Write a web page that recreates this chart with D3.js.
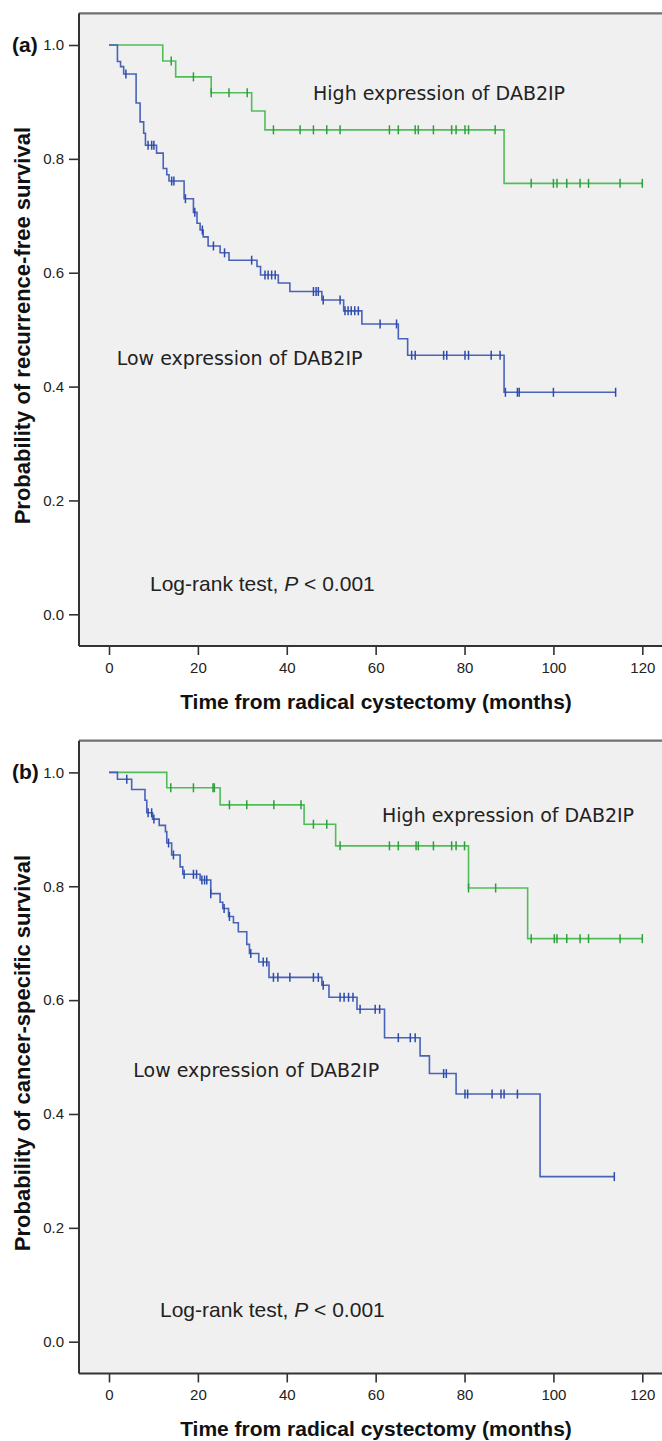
<!DOCTYPE html>
<html>
<head>
<meta charset="utf-8">
<script src="https://cdn.jsdelivr.net/npm/d3@7"></script>
<style>
  html, body { margin: 0; padding: 0; background: #fff; }
  svg { display: block; }
</style>
</head>
<body>
<div id="chart"></div>
<script>
// Axis ticks
const x_ticks = [0, 20, 40, 60, 80, 100, 120];
const y_ticks = [0, 0.2, 0.4, 0.6, 0.8, 1.0];

// (a) recurrence-free survival
const a_high_time = [0, 12.1, 15.0, 23.0, 32.1, 35.1, 88.9];
const a_high_surv = [1.0, 0.972, 0.944, 0.916, 0.884, 0.851, 0.757];
const a_high_cens = [14.0, 19.0, 23.0, 27.0, 31.1, 37.0, 43.0, 46.0, 49.0, 52.0, 63.1, 65.1, 68.9, 69.6, 73.0,
    77.1, 78.1, 80.1, 80.9, 86.9, 95.0, 100.0, 100.8, 103.0, 106.0, 107.9, 115.0, 120.0];

const a_low_time = [0, 1.9, 2.6, 3.3, 6.1, 7.0, 7.8, 8.2, 10.7, 12.2, 13.0, 13.5, 16.9, 19.0, 19.8, 20.5, 21.2,
    22.3, 25.0, 27.0, 33.3, 34.1, 38.1, 40.7, 47.9, 52.8, 56.9, 65.1, 67.2, 88.9];
const a_low_surv = [1.0, 0.971, 0.962, 0.949, 0.898, 0.865, 0.845, 0.824, 0.810, 0.783, 0.772, 0.761, 0.730, 0.706,
    0.687, 0.675, 0.663, 0.647, 0.635, 0.622, 0.611, 0.596, 0.582, 0.567, 0.552, 0.533, 0.510, 0.484, 0.455, 0.390];
const a_low_cens = [3.8, 8.8, 9.6, 10.1, 14.1, 14.6, 17.2, 19.3, 21.0, 23.5, 26.0, 32.1, 35.1, 35.8, 36.6, 37.4,
    46.0, 46.6, 47.1, 48.2, 52.0, 53.1, 53.8, 54.5, 55.3, 56.1, 61.0, 64.7, 68.1, 68.9, 75.3, 76.0, 80.1, 80.9,
    86.0, 88.0, 89.2, 91.9, 92.3, 100.0, 114.0];

// (b) cancer-specific survival
const b_high_time = [0, 13.0, 25.0, 43.9, 51.0, 80.9, 94.2];
const b_high_surv = [1.0, 0.973, 0.943, 0.909, 0.871, 0.797, 0.708];
const b_high_cens = [13.9, 19.0, 23.4, 23.7, 27.1, 31.0, 37.1, 43.2, 46.0, 49.0, 52.0, 63.1, 65.1, 69.1, 69.6,
    73.0, 77.1, 78.1, 80.0, 80.9, 87.0, 95.0, 100.2, 100.8, 103.0, 106.0, 107.9, 115.0, 120.0];

const b_low_time = [0, 1.9, 5.1, 8.1, 8.5, 9.8, 11.3, 12.7, 13.0, 14.1, 16.0, 16.6, 20.5, 22.9, 25.0, 25.6, 26.9,
    28.0, 29.1, 31.0, 31.6, 33.7, 36.0, 47.9, 49.5, 55.8, 62.0, 70.0, 72.1, 78.1, 97.0];
const b_low_surv = [1.0, 0.988, 0.970, 0.951, 0.929, 0.918, 0.907, 0.896, 0.876, 0.855, 0.834, 0.821, 0.811, 0.787,
    0.772, 0.761, 0.747, 0.736, 0.720, 0.698, 0.682, 0.667, 0.640, 0.626, 0.605, 0.584, 0.534, 0.502, 0.471, 0.435, 0.290];
const b_low_cens = [4.0, 8.8, 9.6, 10.1, 13.4, 14.5, 16.9, 19.0, 19.7, 20.9, 21.5, 22.0, 22.9, 25.9, 27.1, 31.9,
    34.7, 35.5, 37.0, 38.0, 40.7, 46.0, 47.1, 48.2, 52.0, 52.9, 53.9, 54.9, 56.5, 59.9, 60.9, 65.1, 67.8, 68.9,
    75.3, 75.9, 80.1, 80.7, 86.2, 88.2, 88.9, 91.9, 113.7];

const high_label = 'High expression of DAB2IP';
const low_label = 'Low expression of DAB2IP';
const x_title = 'Time from radical cystectomy (months)';

const chart_width = 662;
const chart_height = 1441;
const plot_left = 79;
const plot_right = 672;
const plot_height = 632.7;

const green = '#4fbd58', green_dark = '#2f9f3c';
const blue = '#4863b9', blue_dark = '#2d4bab';

const svg = d3.select('#chart')
    .append('svg')
    .attr('width', chart_width)
    .attr('height', chart_height);

const x_scale = d3.scaleLinear()
    .domain([0, 120])
    .range([109, 642.3]);

const y_scale = d3.scaleLinear()
    .domain([0, 1])
    .range([601, 31.7]);

// survival value at time t (step function)
function surv_at(times, surv, t) {
    let s = surv[0];
    times.forEach((tt, i) => { if (tt <= t) s = surv[i]; });
    return s;
}

function draw_curve(g, times, surv, cens, color, mark_color) {
    const end = Math.max(d3.max(times), d3.max(cens));
    const pts = times.map((t, i) => [t, surv[i]]);
    pts.push([end, surv[surv.length - 1]]);

    const line = d3.line()
        .x(d => x_scale(d[0]))
        .y(d => y_scale(d[1]))
        .curve(d3.curveStepAfter);

    g.append('path')
        .attr('d', line(pts))
        .attr('fill', 'none')
        .attr('stroke', color)
        .attr('stroke-width', 1.6);

    g.selectAll(null)
        .data(cens)
        .enter()
        .append('line')
        .attr('x1', d => x_scale(d))
        .attr('x2', d => x_scale(d))
        .attr('y1', d => y_scale(surv_at(times, surv, d)) - 4.5)
        .attr('y2', d => y_scale(surv_at(times, surv, d)) + 4.5)
        .attr('stroke', mark_color)
        .attr('stroke-width', 1.5);
}

function draw_panel(p) {
    const g = svg.append('g').attr('transform', `translate(0,${p.top})`);

    g.append('rect')
        .attr('x', plot_left)
        .attr('y', 0)
        .attr('width', plot_right - plot_left)
        .attr('height', plot_height)
        .attr('fill', '#f0f0f0');

    g.append('line')
        .attr('x1', plot_left).attr('x2', plot_right)
        .attr('y1', 0).attr('y2', 0)
        .attr('stroke', '#717171')
        .attr('stroke-width', 2.2);

    // curves
    draw_curve(g, p.high_time, p.high_surv, p.high_cens, green, green_dark);
    draw_curve(g, p.low_time, p.low_surv, p.low_cens, blue, blue_dark);

    // y axis
    const y_axis = g.append('g')
        .attr('transform', `translate(${plot_left},0)`)
        .call(d3.axisLeft(y_scale)
            .tickValues(y_ticks)
            .tickFormat(d3.format('.1f'))
            .tickSize(10)
            .tickPadding(5));
    y_axis.select('.domain').remove();

    // x axis
    const x_axis = g.append('g')
        .attr('transform', `translate(0,${plot_height})`)
        .call(d3.axisBottom(x_scale)
            .tickValues(x_ticks)
            .tickSize(9)
            .tickPadding(7));
    x_axis.select('.domain').remove();

    [y_axis, x_axis].forEach(ax => {
        ax.attr('font-family', '"Liberation Sans", Arial, sans-serif')
            .attr('font-size', 15);
        ax.selectAll('.tick line').attr('stroke', '#333').attr('stroke-width', 1.6);
        ax.selectAll('.tick text').attr('fill', '#222');
    });

    g.append('line')
        .attr('x1', plot_left).attr('x2', plot_left)
        .attr('y1', 0).attr('y2', plot_height)
        .attr('stroke', '#333')
        .attr('stroke-width', 2);

    g.append('line')
        .attr('x1', plot_left).attr('x2', plot_right)
        .attr('y1', plot_height).attr('y2', plot_height)
        .attr('stroke', '#333')
        .attr('stroke-width', 2);

    // titles
    g.append('text')
        .attr('x', 376)
        .attr('y', 695.7)
        .attr('text-anchor', 'middle')
        .attr('font-family', '"Liberation Sans", Arial, sans-serif')
        .attr('font-weight', 'bold')
        .attr('font-size', 21)
        .attr('fill', '#111')
        .text(x_title);

    g.append('text')
        .attr('transform', `translate(30,${plot_height / 2 - 4}) rotate(-90)`)
        .attr('text-anchor', 'middle')
        .attr('font-family', '"Liberation Sans", Arial, sans-serif')
        .attr('font-weight', 'bold')
        .attr('font-size', 22)
        .attr('fill', '#111')
        .text(p.y_title);

    g.append('text')
        .attr('x', 12)
        .attr('y', 38.6)
        .attr('font-family', '"Liberation Sans", Arial, sans-serif')
        .attr('font-weight', 'bold')
        .attr('font-size', 21)
        .attr('fill', '#111')
        .text(p.tag);

    // group labels
    const label_font = '"DejaVu Sans", Verdana, sans-serif';
    g.append('text')
        .attr('x', p.high_pos[0]).attr('y', p.high_pos[1])
        .attr('font-family', label_font)
        .attr('font-size', 19)
        .attr('fill', '#222')
        .text(high_label);

    g.append('text')
        .attr('x', p.low_pos[0]).attr('y', p.low_pos[1])
        .attr('font-family', label_font)
        .attr('font-size', 19)
        .attr('fill', '#222')
        .text(low_label);

    const lr = g.append('text')
        .attr('x', p.lr_pos[0]).attr('y', p.lr_pos[1])
        .attr('font-family', '"Liberation Sans", Arial, sans-serif')
        .attr('font-size', 21)
        .attr('fill', '#222');
    lr.append('tspan').text('Log-rank test, ');
    lr.append('tspan').attr('font-style', 'italic').text('P');
    lr.append('tspan').text(' < 0.001');
}

draw_panel({
    top: 13.3,
    tag: '(a)',
    y_title: 'Probability of recurrence-free survival',
    high_time: a_high_time, high_surv: a_high_surv, high_cens: a_high_cens,
    low_time: a_low_time, low_surv: a_low_surv, low_cens: a_low_cens,
    high_pos: [313, 86.7],
    low_pos: [116.7, 351.7],
    lr_pos: [150, 577.7]
});

draw_panel({
    top: 740.7,
    tag: '(b)',
    y_title: 'Probability of cancer-specific survival',
    high_time: b_high_time, high_surv: b_high_surv, high_cens: b_high_cens,
    low_time: b_low_time, low_surv: b_low_surv, low_cens: b_low_cens,
    high_pos: [382, 81],
    low_pos: [133.3, 336.3],
    lr_pos: [160, 576]
});
</script>
</body>
</html>
